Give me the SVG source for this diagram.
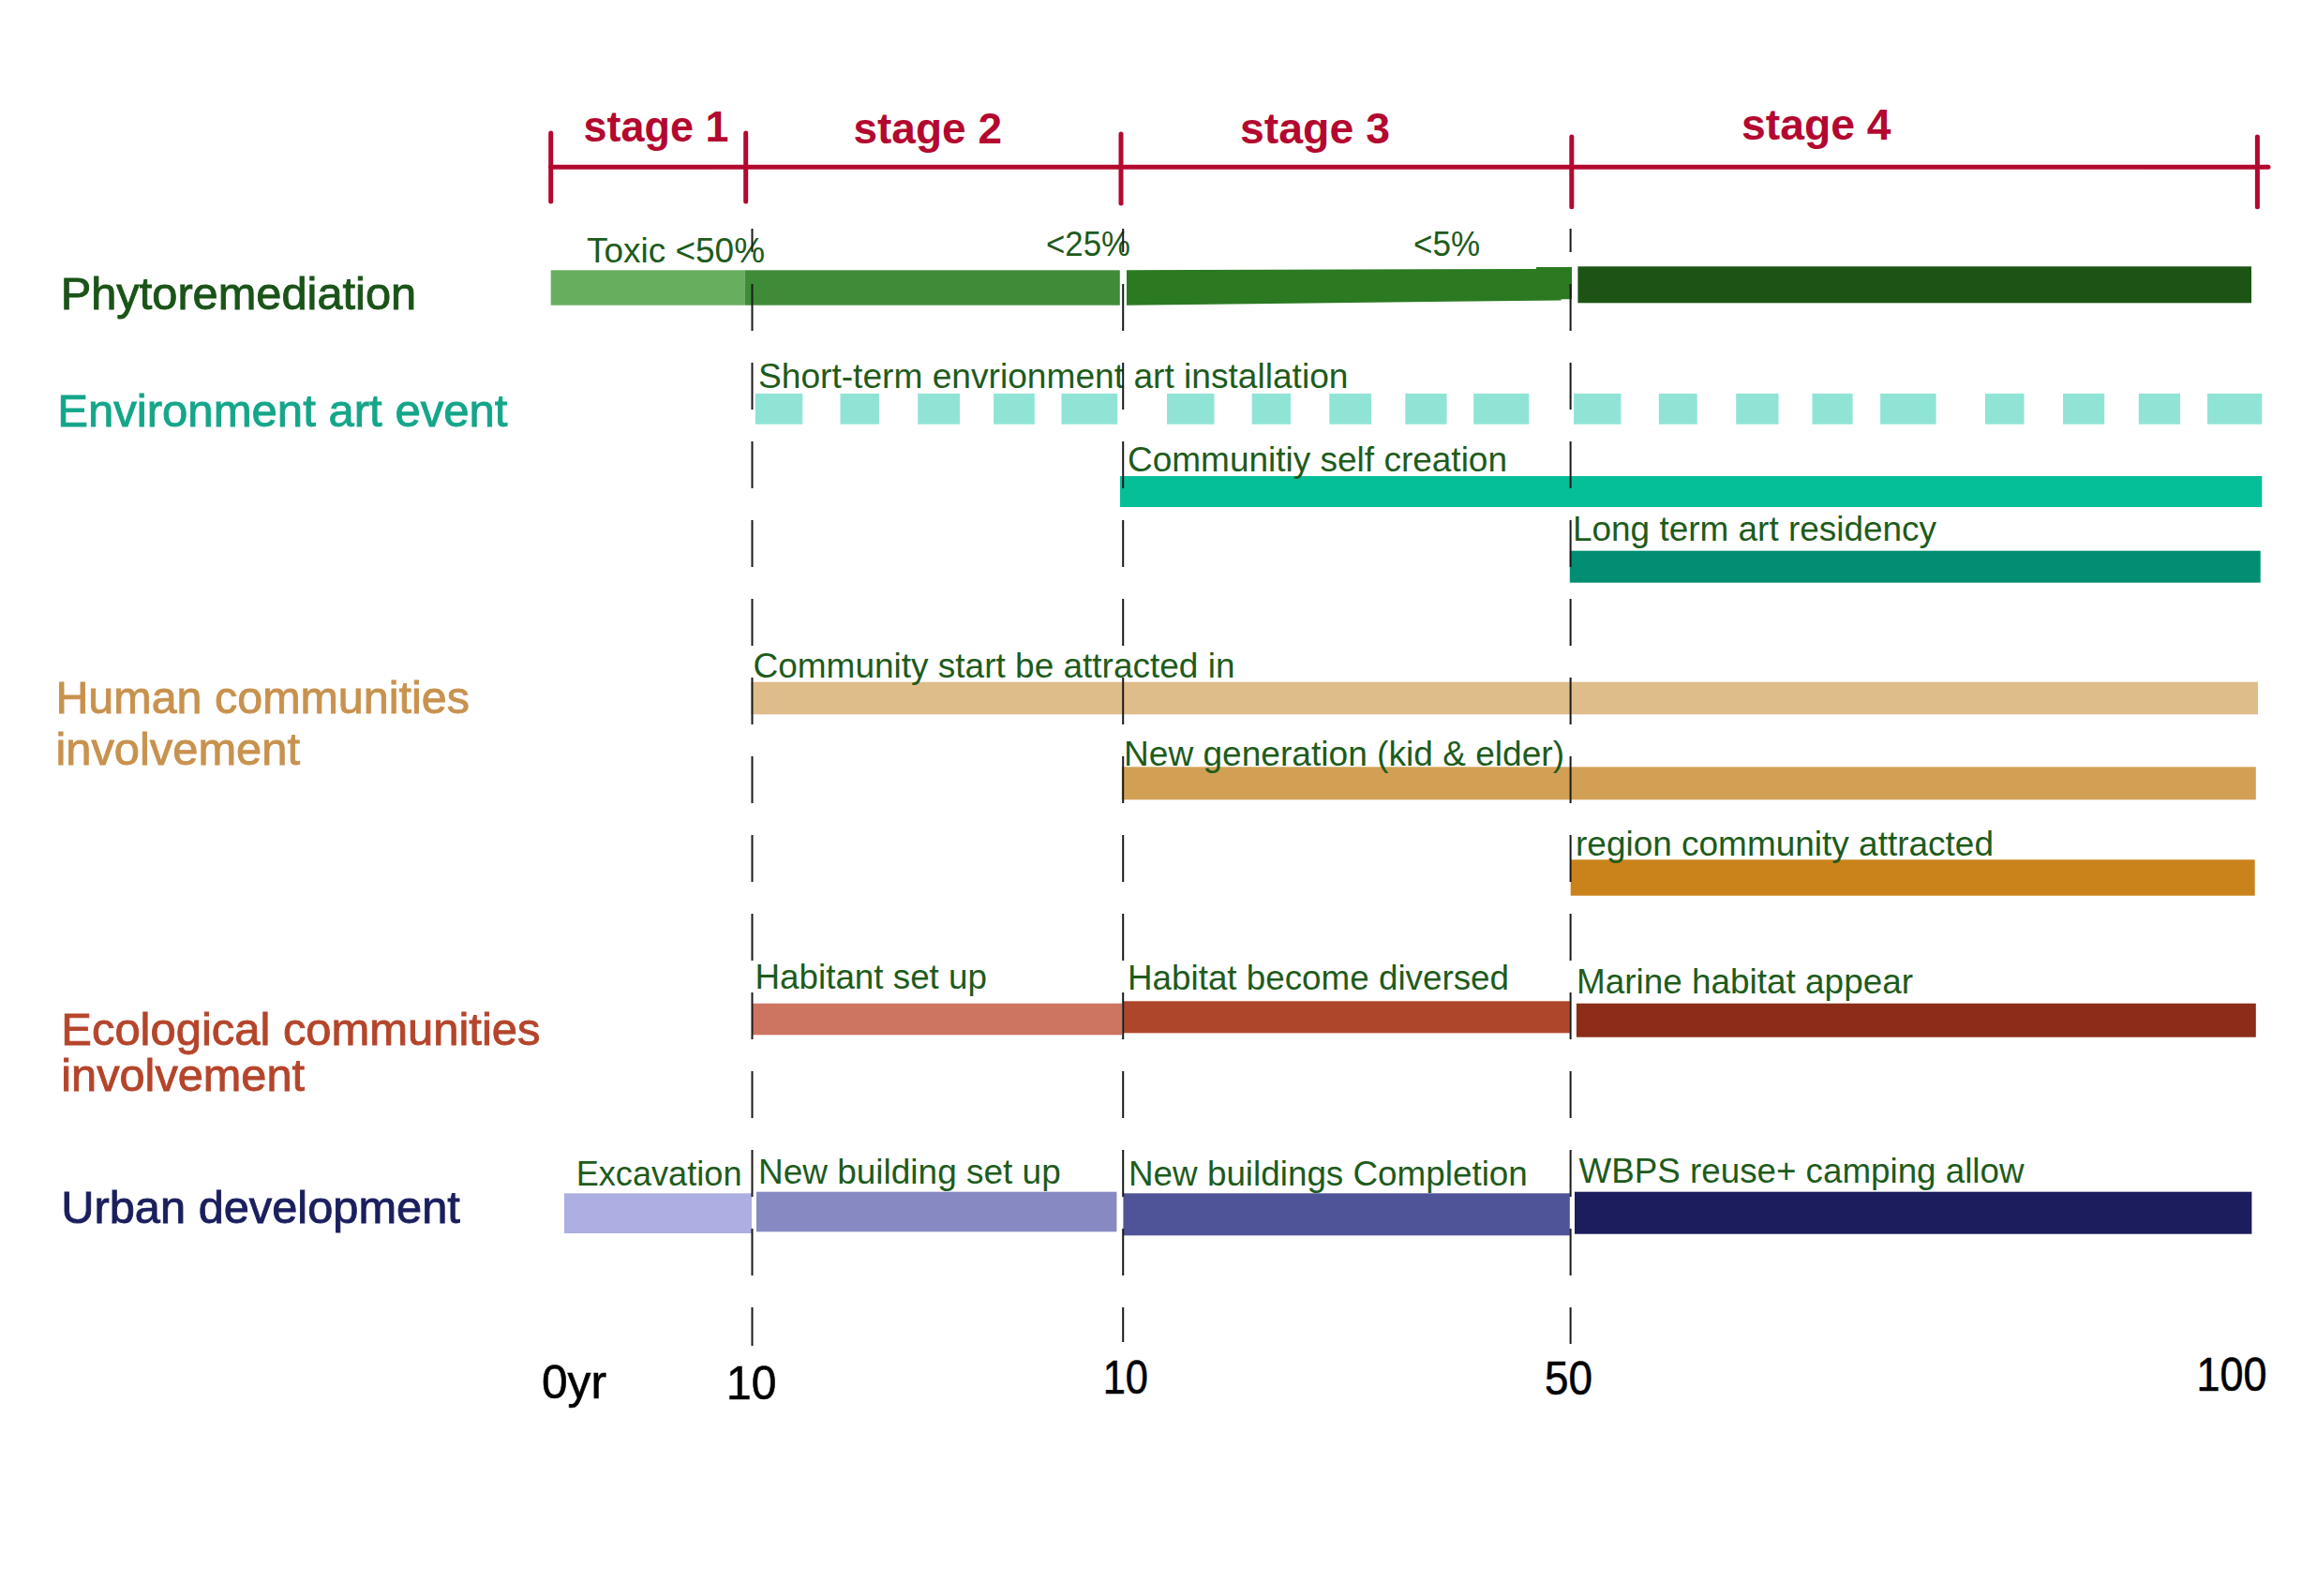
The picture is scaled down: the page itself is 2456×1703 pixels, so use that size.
<svg xmlns="http://www.w3.org/2000/svg" width="2456" height="1703" viewBox="0 0 2456 1703">
<style>
text{font-family:"Liberation Sans",Arial,sans-serif}
.stg{font-size:46px;font-weight:bold;fill:#b3082f}
.cat{font-size:48px;stroke-width:0.9}
.lbl{font-size:37px;fill:#1e5b1c}
.ax{font-size:50px;fill:#000;stroke:#000;stroke-width:0.6}
.axis{stroke:#b3082f;stroke-width:5;stroke-linecap:round;fill:none}
.guide{stroke:#1a1a1a;stroke-width:2;stroke-dasharray:50 34;stroke-dashoffset:25;fill:none}
.aq{fill:#90e4d6}
</style>
<rect width="2456" height="1703" fill="#fff"/>

<g id="stage-axis">
<line class="axis" x1="587.7" y1="178.3" x2="2420" y2="178.3"/>
<line class="axis" x1="587.7" y1="142" x2="587.7" y2="215"/>
<line class="axis" x1="795.7" y1="142" x2="795.7" y2="215"/>
<line class="axis" x1="1196" y1="143" x2="1196" y2="217"/>
<line class="axis" x1="1676.8" y1="146" x2="1676.8" y2="220.7"/>
<line class="axis" x1="2408.4" y1="146" x2="2408.4" y2="220.7"/>
<text class="stg" x="622.5" y="151" textLength="155" lengthAdjust="spacingAndGlyphs">stage 1</text>
<text class="stg" x="910.4" y="152.7" textLength="158.6" lengthAdjust="spacingAndGlyphs">stage 2</text>
<text class="stg" x="1323" y="153" textLength="160" lengthAdjust="spacingAndGlyphs">stage 3</text>
<text class="stg" x="1858" y="149.3" textLength="159.6" lengthAdjust="spacingAndGlyphs">stage 4</text>
</g>

<g id="categories">
<text class="cat" x="64.7" y="330.4" fill="#1a5418" stroke="#1a5418" textLength="379.5" lengthAdjust="spacingAndGlyphs">Phytoremediation</text>
<text class="cat" x="61.2" y="454.7" fill="#15a68a" stroke="#15a68a" textLength="480.3" lengthAdjust="spacingAndGlyphs">Environment art event</text>
<text class="cat" x="59.4" y="760.9" fill="#c8924e" stroke="#c8924e" textLength="441.5" lengthAdjust="spacingAndGlyphs">Human communities</text>
<text class="cat" x="59.4" y="816.4" fill="#c8924e" stroke="#c8924e" textLength="260.6" lengthAdjust="spacingAndGlyphs">involvement</text>
<text class="cat" x="65.3" y="1115" fill="#b4452b" stroke="#b4452b" textLength="511.2" lengthAdjust="spacingAndGlyphs">Ecological communities</text>
<text class="cat" x="65.3" y="1164.3" fill="#b4452b" stroke="#b4452b" textLength="259.7" lengthAdjust="spacingAndGlyphs">involvement</text>
<text class="cat" x="65.3" y="1305.4" fill="#1b1f5e" stroke="#1b1f5e" textLength="425.5" lengthAdjust="spacingAndGlyphs">Urban development</text>
</g>

<g id="phyto-stage1">
<rect x="587.7" y="288.3" width="206.7" height="37.4" fill="#68ae5f"/>
<text class="lbl" x="626" y="280" textLength="190" lengthAdjust="spacingAndGlyphs">Toxic &lt;50%</text>
</g>
<g id="phyto-stage2">
<rect x="794.4" y="288.3" width="400.4" height="37.4" fill="#3f8c38"/>
<text class="lbl" x="1116" y="273" textLength="90" lengthAdjust="spacingAndGlyphs">&lt;25%</text>
</g>
<g id="phyto-stage3">
<polygon points="1202,288.3 1639,287 1639,285 1677,285 1677,319.3 1665.6,319.3 1665.6,320.5 1202,325.7" fill="#2b7a22"/>
<text class="lbl" x="1508" y="273" textLength="71" lengthAdjust="spacingAndGlyphs">&lt;5%</text>
</g>
<g id="phyto-stage4">
<rect x="1683.4" y="284.3" width="718.6" height="39" fill="#1c5513"/>
</g>

<g id="art-short-term">
<rect class="aq" x="805.8" y="420" width="50.5" height="32.7"/>
<rect class="aq" x="896.5" y="420" width="41.4" height="32.7"/>
<rect class="aq" x="979.2" y="420" width="44.8" height="32.7"/>
<rect class="aq" x="1060.1" y="420" width="43.7" height="32.7"/>
<rect class="aq" x="1132.5" y="420" width="59.7" height="32.7"/>
<rect class="aq" x="1245" y="420" width="50.5" height="32.7"/>
<rect class="aq" x="1335.7" y="420" width="41.3" height="32.7"/>
<rect class="aq" x="1418.3" y="420" width="44.8" height="32.7"/>
<rect class="aq" x="1499.3" y="420" width="44.2" height="32.7"/>
<rect class="aq" x="1572.2" y="420" width="59.1" height="32.7"/>
<rect class="aq" x="1679.1" y="420" width="50.3" height="32.7"/>
<rect class="aq" x="1769.8" y="420" width="40.9" height="32.7"/>
<rect class="aq" x="1852.2" y="420" width="45.3" height="32.7"/>
<rect class="aq" x="1933.5" y="420" width="43.1" height="32.7"/>
<rect class="aq" x="2006.1" y="420" width="59.5" height="32.7"/>
<rect class="aq" x="2118" y="420" width="41.5" height="32.7"/>
<rect class="aq" x="2201" y="420" width="44.2" height="32.7"/>
<rect class="aq" x="2281.8" y="420" width="44.2" height="32.7"/>
<rect class="aq" x="2355" y="420" width="58.3" height="32.7"/>
<text class="lbl" x="809" y="414" textLength="629.5" lengthAdjust="spacingAndGlyphs">Short-term envrionment art installation</text>
</g>

<g id="art-community-creation">
<rect x="1195" y="508" width="1218.3" height="33" fill="#05bf99"/>
<text class="lbl" x="1203" y="503" textLength="405" lengthAdjust="spacingAndGlyphs">Communitiy self creation</text>
</g>

<g id="art-residency">
<rect x="1674.8" y="587.7" width="736.9" height="34" fill="#028e72"/>
<text class="lbl" x="1678" y="577" textLength="388" lengthAdjust="spacingAndGlyphs">Long term art residency</text>
</g>

<g id="human-attracted">
<rect x="801.4" y="727.7" width="1607.6" height="34.6" fill="#dfbd8a"/>
<text class="lbl" x="803.5" y="723" textLength="514" lengthAdjust="spacingAndGlyphs">Community start be attracted in</text>
</g>

<g id="human-new-generation">
<rect x="1196.8" y="818.3" width="1210" height="35" fill="#d2a054"/>
<text class="lbl" x="1199" y="816.7" textLength="470" lengthAdjust="spacingAndGlyphs">New generation (kid &amp; elder)</text>
</g>

<g id="human-region">
<rect x="1675.7" y="917.3" width="730" height="38.4" fill="#ca831a"/>
<text class="lbl" x="1681" y="913.3" textLength="446" lengthAdjust="spacingAndGlyphs">region community attracted</text>
</g>

<g id="eco-habitant">
<rect x="802" y="1070.7" width="395" height="33.6" fill="#ce7561"/>
<text class="lbl" x="805.5" y="1055" textLength="247.5" lengthAdjust="spacingAndGlyphs">Habitant set up</text>
</g>

<g id="eco-diversed">
<rect x="1198.4" y="1068.3" width="476.4" height="34" fill="#ae462b"/>
<text class="lbl" x="1203" y="1056" textLength="407" lengthAdjust="spacingAndGlyphs">Habitat become diversed</text>
</g>

<g id="eco-marine">
<rect x="1681.9" y="1070.7" width="724.9" height="36" fill="#8b2d18"/>
<text class="lbl" x="1682" y="1060" textLength="359" lengthAdjust="spacingAndGlyphs">Marine habitat appear</text>
</g>

<g id="urban-excavation">
<rect x="602" y="1273.3" width="200" height="42.7" fill="#adafe2"/>
<text class="lbl" x="614.7" y="1265" textLength="176.8" lengthAdjust="spacingAndGlyphs">Excavation</text>
</g>

<g id="urban-building-setup">
<rect x="807" y="1271.7" width="384.4" height="42.6" fill="#8789c2"/>
<text class="lbl" x="809" y="1263" textLength="322.7" lengthAdjust="spacingAndGlyphs">New building set up</text>
</g>

<g id="urban-completion">
<rect x="1198.4" y="1273.3" width="476.4" height="45" fill="#4f5397"/>
<text class="lbl" x="1204" y="1265" textLength="425.8" lengthAdjust="spacingAndGlyphs">New buildings Completion</text>
</g>

<g id="urban-wbps">
<rect x="1680" y="1271.7" width="722.4" height="45" fill="#1b1d5c"/>
<text class="lbl" x="1684.6" y="1262" textLength="474.9" lengthAdjust="spacingAndGlyphs">WBPS reuse+ camping allow</text>
</g>

<g id="connectors">
<line class="guide" x1="802.5" y1="244" x2="802.5" y2="1436"/>
<line class="guide" x1="1198.2" y1="244" x2="1198.2" y2="1432"/>
<line class="guide" x1="1675.6" y1="244" x2="1675.6" y2="1434"/>
</g>

<g id="time-axis">
<text class="ax" x="578" y="1491.7" textLength="69" lengthAdjust="spacingAndGlyphs">0yr</text>
<text class="ax" x="775" y="1492.7" textLength="53.4" lengthAdjust="spacingAndGlyphs">10</text>
<text class="ax" x="1176.7" y="1487.3" textLength="48.3" lengthAdjust="spacingAndGlyphs">10</text>
<text class="ax" x="1648" y="1488.3" textLength="51" lengthAdjust="spacingAndGlyphs">50</text>
<text class="ax" x="2343.5" y="1484" textLength="75" lengthAdjust="spacingAndGlyphs">100</text>
</g>
</svg>
